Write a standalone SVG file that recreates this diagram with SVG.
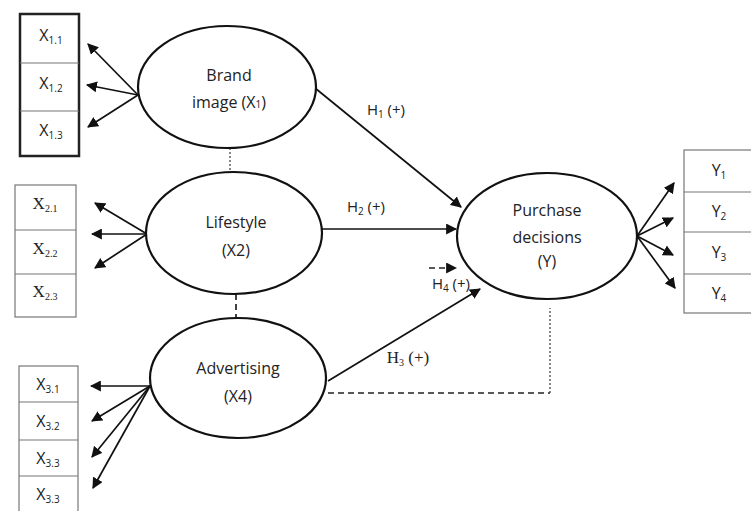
<svg xmlns="http://www.w3.org/2000/svg" width="751" height="511" viewBox="0 0 751 511">
<style>
.bg{fill:#fff}
.ell{fill:#fff;stroke:#111;stroke-width:2.2}
.box{fill:#fff;stroke:#777;stroke-width:1.2}
.boxb{fill:#fff;stroke:#222;stroke-width:2.5}
.div{stroke:#777;stroke-width:1.2}
.t{font-family:"Open Sans","Liberation Sans",sans-serif;font-size:15px;fill:#222;text-anchor:middle}
.n{font-size:16px}
.s{font-family:"Liberation Serif",serif;font-size:17px;fill:#222;text-anchor:middle}
.sub{font-size:10px}
.ln{stroke:#111;stroke-width:1.7;fill:none}
.dash{stroke:#222;stroke-width:1.7;fill:none;stroke-dasharray:6 4}
.dot{stroke:#555;stroke-width:1.4;fill:none;stroke-dasharray:2 2}
</style>
<defs>
<marker id="ahb" viewBox="0 0 10 10" refX="9" refY="5" markerWidth="11" markerHeight="11" orient="auto" markerUnits="userSpaceOnUse">
<path d="M0,0 L10,5 L0,10 z" fill="#111"/>
</marker>
</defs>
<rect class="bg" width="751" height="511"/>

<g id="connectors">
<line class="ln" x1="138" y1="95" x2="88" y2="44" marker-end="url(#ahb)"/>
<line class="ln" x1="138" y1="95" x2="87" y2="85" marker-end="url(#ahb)"/>
<line class="ln" x1="138" y1="95" x2="88" y2="127" marker-end="url(#ahb)"/>
<line class="ln" x1="147" y1="234" x2="95" y2="203" marker-end="url(#ahb)"/>
<line class="ln" x1="147" y1="234" x2="92" y2="234" marker-end="url(#ahb)"/>
<line class="ln" x1="147" y1="234" x2="95" y2="268" marker-end="url(#ahb)"/>
<line class="ln" x1="150" y1="386" x2="91" y2="386" marker-end="url(#ahb)"/>
<line class="ln" x1="150" y1="386" x2="92" y2="421" marker-end="url(#ahb)"/>
<line class="ln" x1="150" y1="386" x2="92" y2="457" marker-end="url(#ahb)"/>
<line class="ln" x1="150" y1="386" x2="93" y2="488" marker-end="url(#ahb)"/>
<line class="ln" x1="637" y1="236" x2="674" y2="183" marker-end="url(#ahb)"/>
<line class="ln" x1="637" y1="236" x2="673" y2="218" marker-end="url(#ahb)"/>
<line class="ln" x1="637" y1="236" x2="673" y2="255" marker-end="url(#ahb)"/>
<line class="ln" x1="637" y1="236" x2="675" y2="288" marker-end="url(#ahb)"/>
<line class="ln" x1="315" y1="88" x2="461" y2="207" marker-end="url(#ahb)"/>
<line class="ln" x1="322" y1="229" x2="456" y2="229" marker-end="url(#ahb)"/>
<line class="ln" x1="328" y1="381" x2="480" y2="289" marker-end="url(#ahb)"/>
<line class="dash" x1="429" y1="268" x2="456" y2="268" marker-end="url(#ahb)"/>
<polyline class="dash" points="328,393 550,393"/>
<polyline class="dot" points="550,393 550,308"/>
<line class="dot" x1="230" y1="148" x2="230" y2="172"/>
<line class="dash" x1="236" y1="294" x2="236" y2="318"/>
<text class="t" x="386" y="115" font-size="14">H<tspan class="sub" dy="3">1</tspan><tspan dy="-3"> (+)</tspan></text>
<text class="t" x="366" y="212" font-size="14">H<tspan class="sub" dy="3">2</tspan><tspan dy="-3"> (+)</tspan></text>
<text class="s" x="408" y="363" font-size="16">H<tspan class="sub" dy="3">3</tspan><tspan dy="-3"> (+)</tspan></text>
<text class="t" x="451" y="289" font-size="14">H<tspan class="sub" dy="3">4</tspan><tspan dy="-3"> (+)</tspan></text>
</g>

<g id="x1-indicators">
<rect class="boxb" x="20" y="14" width="59" height="142"/>
<line class="div" x1="20" y1="63" x2="79" y2="63"/>
<line class="div" x1="20" y1="111" x2="79" y2="111"/>
<text class="t n" x="51" y="41">X<tspan class="sub" dy="3">1.1</tspan></text>
<text class="t n" x="51" y="89">X<tspan class="sub" dy="3">1.2</tspan></text>
<text class="t n" x="51" y="136">X<tspan class="sub" dy="3">1.3</tspan></text>
</g>

<g id="x2-indicators">
<rect class="box" x="15" y="185" width="61" height="132"/>
<line class="div" x1="15" y1="230" x2="76" y2="230"/>
<line class="div" x1="15" y1="274" x2="76" y2="274"/>
<text class="s" x="45" y="209">X<tspan class="sub" dy="3">2.1</tspan></text>
<text class="s" x="45" y="254">X<tspan class="sub" dy="3">2.2</tspan></text>
<text class="s" x="45" y="297">X<tspan class="sub" dy="3">2.3</tspan></text>
</g>

<g id="x3-indicators">
<rect class="box" x="19" y="366" width="59" height="150"/>
<line class="div" x1="19" y1="402" x2="78" y2="402"/>
<line class="div" x1="19" y1="440" x2="78" y2="440"/>
<line class="div" x1="19" y1="476" x2="78" y2="476"/>
<text class="t n" x="48" y="390">X<tspan class="sub" dy="3">3.1</tspan></text>
<text class="t n" x="48" y="427">X<tspan class="sub" dy="3">3.2</tspan></text>
<text class="t n" x="48" y="464">X<tspan class="sub" dy="3">3.3</tspan></text>
<text class="t n" x="48" y="500">X<tspan class="sub" dy="3">3.3</tspan></text>
</g>

<g id="y-indicators">
<rect class="box" x="684" y="150" width="70" height="163"/>
<line class="div" x1="684" y1="192" x2="754" y2="192"/>
<line class="div" x1="684" y1="232" x2="754" y2="232"/>
<line class="div" x1="684" y1="274" x2="754" y2="274"/>
<text class="t n" x="719" y="176">Y<tspan class="sub" dy="3">1</tspan></text>
<text class="t n" x="719" y="217">Y<tspan class="sub" dy="3">2</tspan></text>
<text class="t n" x="719" y="258">Y<tspan class="sub" dy="3">3</tspan></text>
<text class="t n" x="719" y="299">Y<tspan class="sub" dy="3">4</tspan></text>
</g>

<g id="brand-image">
<ellipse class="ell" cx="227" cy="87" rx="89" ry="61"/>
<text class="t n" x="229" y="81">Brand</text>
<text class="t n" x="229" y="108">image (X<tspan class="sub">1</tspan>)</text>
</g>

<g id="lifestyle">
<ellipse class="ell" cx="234" cy="233" rx="88" ry="61"/>
<text class="t n" x="236" y="228">Lifestyle</text>
<text class="t n" x="236" y="256">(X2)</text>
</g>

<g id="advertising">
<ellipse class="ell" cx="238" cy="378" rx="88" ry="60"/>
<text class="t n" x="238" y="374">Advertising</text>
<text class="t n" x="238" y="402">(X4)</text>
</g>

<g id="purchase-decisions">
<ellipse class="ell" cx="547" cy="236" rx="90" ry="63"/>
<text class="t n" x="547" y="216">Purchase</text>
<text class="t n" x="547" y="243">decisions</text>
<text class="t n" x="547" y="267">(Y)</text>
</g>
</svg>
